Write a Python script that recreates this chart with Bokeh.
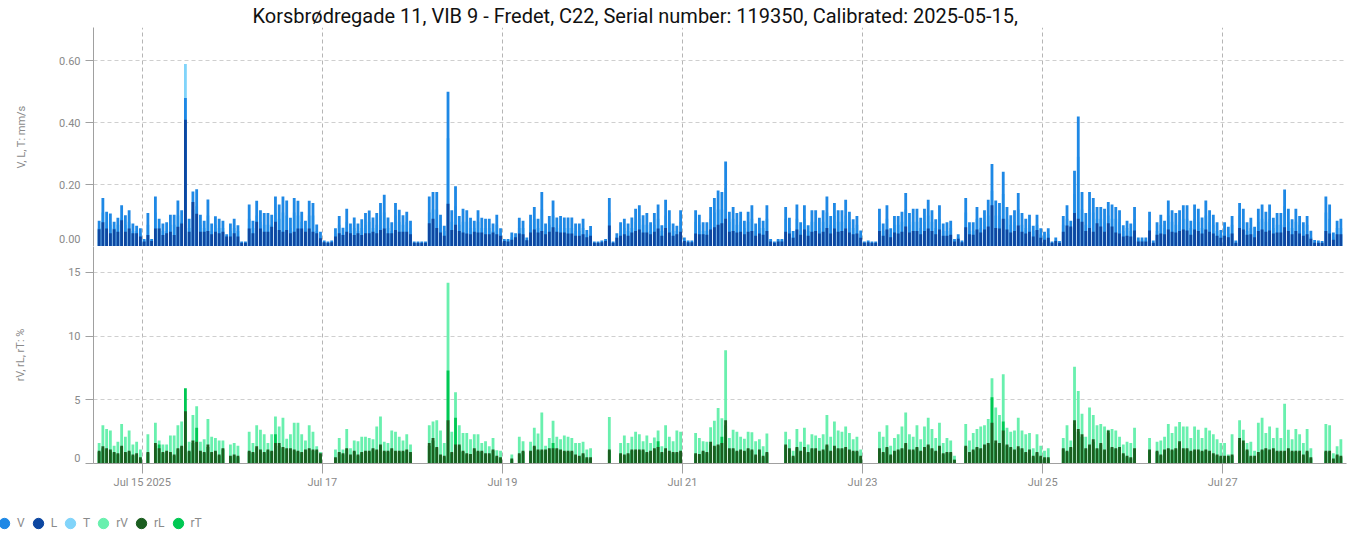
import pandas as pd
from bokeh.plotting import figure
from bokeh.models import (ColumnDataSource, Range1d, FixedTicker, NumeralTickFormatter,
                          Legend, LegendItem)
from bokeh.layouts import column, row
from bokeh.embed import file_html
from bokeh.resources import INLINE

TITLE = "Korsbrødregade 11, VIB 9 - Fredet, C22, Serial number: 119350, Calibrated: 2025-05-15,"
START = "2025-07-14 12:00"   # first hourly bar

V = [0.083, 0.157, 0.112, 0.107, 0.080, 0.093, 0.133, 0.101, 0.117, 0.074,
     0.067, 0.059, 0.024, 0.108, 0.024, 0.162, 0.090, 0.074, 0.078, 0.103,
     0.103, 0.149, 0.117, 0.480, 0.090, 0.178, 0.185, 0.103, 0.083, 0.152,
     0.074, 0.098, 0.090, 0.083, 0.040, 0.074, 0.090, 0.069, 0.016, 0.016,
     0.136, 0.083, 0.148, 0.117, 0.108, 0.108, 0.103, 0.162, 0.136, 0.162,
     0.149, 0.093, 0.157, 0.148, 0.112, 0.083, 0.148, 0.141, 0.071, 0.048,
     0.019, 0.016, 0.019, 0.059, 0.099, 0.061, 0.122, 0.074, 0.094, 0.074,
     0.088, 0.108, 0.116, 0.094, 0.108, 0.141, 0.167, 0.094, 0.078, 0.141,
     0.119, 0.101, 0.112, 0.083, 0.016, 0.016, 0.016, 0.016, 0.162, 0.176,
     0.176, 0.103, 0.067, 0.500, 0.117, 0.195, 0.099, 0.122, 0.117, 0.093,
     0.083, 0.117, 0.093, 0.090, 0.090, 0.074, 0.103, 0.059, 0.024, 0.024,
     0.045, 0.043, 0.093, 0.083, 0.029, 0.103, 0.128, 0.090, 0.176, 0.074,
     0.099, 0.149, 0.094, 0.099, 0.094, 0.094, 0.094, 0.074, 0.074, 0.090,
     0.053, 0.066, 0.016, 0.016, 0.019, 0.024, 0.157, 0.016, 0.043, 0.078,
     0.090, 0.074, 0.094, 0.122, 0.133, 0.101, 0.108, 0.078, 0.108, 0.136,
     0.069, 0.151, 0.117, 0.074, 0.067, 0.117, 0.029, 0.019, 0.019, 0.117,
     0.103, 0.078, 0.078, 0.128, 0.157, 0.181, 0.176, 0.275, 0.112, 0.128,
     0.108, 0.112, 0.083, 0.112, 0.133, 0.074, 0.093, 0.083, 0.133, 0.024,
     0.016, 0.024, 0.024, 0.128, 0.093, 0.050, 0.136, 0.078, 0.133, 0.069,
     0.117, 0.117, 0.093, 0.117, 0.162, 0.099, 0.141, 0.117, 0.117, 0.151,
     0.112, 0.088, 0.099, 0.052, 0.016, 0.019, 0.016, 0.016, 0.122, 0.074,
     0.133, 0.059, 0.099, 0.099, 0.112, 0.173, 0.108, 0.122, 0.122, 0.093,
     0.122, 0.151, 0.117, 0.088, 0.133, 0.074, 0.078, 0.083, 0.024, 0.040,
     0.019, 0.157, 0.078, 0.078, 0.128, 0.093, 0.117, 0.151, 0.267, 0.149,
     0.141, 0.242, 0.128, 0.101, 0.117, 0.173, 0.108, 0.090, 0.103, 0.067,
     0.103, 0.059, 0.048, 0.059, 0.016, 0.029, 0.018, 0.099, 0.133, 0.083,
     0.245, 0.420, 0.176, 0.108, 0.176, 0.157, 0.128, 0.128, 0.122, 0.144,
     0.136, 0.128, 0.117, 0.069, 0.083, 0.074, 0.128, 0.029, 0.029, 0.029,
     0.112, 0.019, 0.078, 0.103, 0.083, 0.149, 0.117, 0.108, 0.117, 0.133,
     0.133, 0.083, 0.136, 0.122, 0.094, 0.149, 0.117, 0.103, 0.078, 0.053,
     0.078, 0.064, 0.099, 0.019, 0.141, 0.122, 0.078, 0.093, 0.064, 0.122,
     0.136, 0.112, 0.136, 0.093, 0.108, 0.108, 0.184, 0.122, 0.088, 0.122,
     0.099, 0.078, 0.099, 0.051, 0.021, 0.019, 0.018, 0.162, 0.136, 0.045,
     0.083, 0.090]

L = [.056, .078, .058, .043, .056, .048, .085, .048, .058, .043,
     .043, .032, .016, .037, .018, .058, .058, .037, .043, .048,
     .037, .064, .074, .410, .048, .144, .106, .048, .048, .050,
     .040, .048, .043, .048, .032, .032, .043, .032, .012, .012,
     .058, .043, .080, .058, .048, .048, .064, .080, .053, .048,
     .053, .043, .048, .058, .058, .048, .058, .048, .043, .027,
     .014, .012, .014, .032, .043, .037, .048, .043, .037, .043,
     .037, .043, .043, .048, .043, .053, .058, .043, .043, .053,
     .048, .048, .048, .040, .012, .012, .012, .012, .075, .090,
     .060, .045, .035, .138, .053, .070, .050, .045, .042, .040,
     .048, .045, .045, .040, .040, .045, .040, .035, .018, .016,
     .022, .030, .042, .040, .020, .045, .055, .045, .050, .040,
     .048, .062, .048, .045, .045, .042, .042, .035, .035, .040,
     .030, .035, .012, .012, .014, .018, .068, .012, .028, .035,
     .040, .035, .045, .050, .055, .045, .045, .040, .048, .058,
     .035, .060, .045, .035, .040, .048, .018, .014, .014, .042,
     .040, .040, .038, .055, .062, .070, .075, .090, .048, .050,
     .045, .048, .040, .048, .050, .035, .042, .038, .050, .016,
     .012, .016, .016, .048, .042, .028, .055, .038, .055, .035,
     .048, .050, .042, .048, .060, .042, .058, .048, .050, .058,
     .045, .040, .042, .028, .012, .014, .012, .012, .050, .035,
     .055, .030, .045, .042, .048, .065, .045, .050, .050, .040,
     .050, .058, .050, .040, .055, .035, .035, .038, .016, .025,
     .014, .062, .040, .038, .055, .045, .055, .065, .133, .060,
     .058, .090, .055, .045, .050, .068, .048, .042, .048, .032,
     .053, .028, .022, .028, .012, .018, .012, .048, .068, .065,
     .108, .090, .080, .050, .060, .048, .075, .065, .048, .075,
     .065, .045, .042, .032, .035, .032, .052, .016, .016, .016,
     .052, .012, .038, .042, .040, .055, .048, .045, .050, .055,
     .052, .038, .055, .050, .042, .055, .048, .042, .035, .028,
     .035, .030, .042, .012, .060, .055, .038, .040, .030, .050,
     .055, .048, .052, .042, .045, .045, .062, .050, .040, .050,
     .042, .035, .040, .025, .012, .012, .012, .050, .042, .022,
     .040, .040]

T = [.06, .11, .08, .07, .06, .07, .09, .07, .08, .05,
     .05, .04, .02, .07, .02, .11, .06, .05, .05, .07,
     .07, .10, .08, .59, .06, .12, .13, .07, .06, .10,
     .05, .07, .06, .06, .03, .05, .06, .05, .01, .01,
     .09, .06, .10, .08, .07, .07, .07, .11, .09, .11,
     .10, .06, .11, .10, .08, .06, .10, .10, .05, .03,
     .01, .01, .01, .04, .07, .04, .08, .05, .06, .05,
     .06, .07, .08, .06, .07, .10, .11, .06, .05, .10,
     .08, .07, .08, .06, .01, .01, .01, .01, .11, .12,
     .12, .07, .05, .35, .08, .13, .07, .08, .08, .06,
     .06, .08, .06, .06, .06, .05, .07, .04, .02, .02,
     .03, .03, .06, .06, .02, .07, .09, .06, .12, .05,
     .07, .10, .06, .07, .06, .06, .06, .05, .05, .06,
     .04, .04, .01, .01, .01, .02, .11, .01, .03, .05,
     .06, .05, .06, .08, .09, .07, .07, .05, .07, .09,
     .05, .10, .08, .05, .05, .08, .02, .01, .01, .08,
     .07, .05, .05, .09, .11, .12, .12, .19, .08, .09,
     .07, .08, .06, .08, .09, .05, .06, .06, .09, .02,
     .01, .02, .02, .09, .06, .03, .09, .05, .09, .05,
     .08, .08, .06, .08, .11, .07, .10, .08, .08, .10,
     .08, .06, .07, .04, .01, .01, .01, .01, .08, .05,
     .09, .04, .07, .07, .08, .12, .07, .08, .08, .06,
     .08, .10, .08, .06, .09, .05, .05, .06, .02, .03,
     .01, .11, .05, .05, .09, .06, .08, .10, .18, .10,
     .10, .17, .09, .07, .08, .12, .07, .06, .07, .05,
     .07, .04, .03, .04, .01, .02, .01, .07, .09, .06,
     .17, .29, .12, .07, .12, .11, .09, .09, .08, .10,
     .09, .09, .08, .05, .06, .05, .09, .02, .02, .02,
     .08, .01, .05, .07, .06, .10, .08, .07, .08, .09,
     .09, .06, .09, .08, .06, .10, .08, .07, .05, .04,
     .05, .04, .07, .01, .10, .08, .05, .06, .04, .08,
     .09, .08, .09, .06, .07, .07, .13, .08, .06, .08,
     .07, .05, .07, .03, .01, .01, .01, .11, .09, .03,
     .06, .06]

rV = [1.6, 3.0, 2.7, 2.6, 1.4, 1.7, 3.1, 2.1, 2.6, 1.5,
      1.7, 1.1, 0, 2.3, 0, 3.2, 1.8, 1.5, 1.5, 2.2,
      2.2, 3.0, 3.3, 3.6, 1.7, 3.8, 4.5, 1.7, 1.9, 3.5,
      2.1, 2.0, 1.8, 1.8, 0, 1.5, 1.6, 1.4, 0, 0,
      2.5, 1.6, 3.0, 2.65, 2.3, 1.6, 2.3, 3.7, 2.9, 3.6,
      1.95, 2.3, 3.2, 3.2, 2.3, 1.8, 3.0, 2.5, 1.35, 0.9,
      0, 0, 0, 1.1, 2.0, 1.1, 2.7, 1.2, 1.8, 1.75,
      2.1, 2.1, 2.0, 1.9, 2.9, 3.7, 1.7, 1.6, 2.6, 2.5,
      2.1, 1.8, 2.3, 1.5, 0, 0, 0, 0, 3.0, 3.3,
      3.4, 2.6, 1.6, 14.2, 2.5, 5.6, 3.0, 2.4, 2.4, 1.9,
      2.3, 2.3, 1.6, 1.75, 1.35, 2.0, 1.05, 1.0, 0, 0,
      0.7, 0, 2.1, 1.75, 0, 1.7, 2.8, 2.35, 4.0, 1.4,
      2.0, 3.35, 2.1, 1.9, 2.2, 2.1, 2.0, 1.6, 1.6, 1.7,
      1.1, 1.2, 0, 0, 0, 0, 3.65, 0, 0, 1.6,
      2.2, 1.6, 2.1, 2.5, 2.3, 1.75, 2.2, 1.6, 2.05, 2.6,
      1.35, 3.0, 2.1, 1.75, 2.6, 2.5, 0, 0, 0, 2.4,
      2.0, 1.75, 1.7, 2.85, 3.35, 4.35, 3.55, 8.9, 2.0, 2.65,
      2.5, 2.1, 1.95, 2.5, 2.45, 1.75, 1.9, 1.35, 2.35, 0,
      0, 0, 0, 2.5, 1.9, 1.0, 2.7, 1.7, 2.8, 1.5,
      2.3, 2.2, 2.0, 2.3, 3.8, 2.1, 3.3, 2.6, 2.5, 2.9,
      2.4, 1.9, 2.1, 1.1, 0, 0, 0, 0, 2.5, 2.1,
      3.0, 1.4, 2.0, 2.3, 2.9, 4.0, 2.3, 2.1, 3.0, 1.9,
      2.9, 3.6, 2.7, 2.0, 3.2, 1.6, 2.0, 1.8, 0.6, 0,
      0, 3.1, 1.8, 2.4, 2.7, 2.9, 3.0, 3.5, 6.7, 4.4,
      3.8, 7.0, 2.8, 2.5, 2.6, 3.6, 2.6, 2.3, 2.4, 1.2,
      2.3, 1.4, 1.0, 1.2, 0, 0, 0, 2.0, 3.0, 1.8,
      7.6, 5.7, 3.9, 2.1, 4.4, 3.8, 3.0, 3.1, 2.9, 2.65,
      2.7, 2.6, 2.1, 1.5, 1.7, 1.6, 2.8, 0, 0, 0,
      2.0, 0, 1.7, 1.8, 2.1, 3.1, 2.4, 2.9, 3.25, 2.9,
      2.9, 2.0, 2.9, 2.65, 2.0, 2.8, 2.6, 2.3, 1.9, 1.6,
      1.6, 0.7, 2.3, 0, 3.4, 2.65, 1.6, 1.7, 1.0, 3.2,
      3.6, 2.4, 2.9, 2.0, 2.8, 2.0, 4.7, 2.65, 1.9, 2.7,
      2.3, 1.6, 2.7, 1.2, 0, 0, 0, 3.1, 3.0, 0.8,
      1.35, 1.9]

rL = [1.0, 1.35, 1.2, 1.1, 0.9, 0.8, 1.4, 0.9, 1.0, 0.7,
      0.8, 0.5, 0, 0.9, 0, 1.6, 1.2, 0.9, 1.0, 0.9,
      0.7, 1.2, 1.4, 4.1, 1.0, 1.8, 1.7, 1.0, 0.9, 1.5,
      0.9, 1.0, 0.7, 1.2, 0, 0.6, 0.7, 0.6, 0, 0,
      1.0, 0.9, 1.35, 1.1, 0.9, 1.1, 1.0, 1.6, 1.6, 1.3,
      1.2, 1.2, 1.1, 1.0, 0.9, 1.1, 1.2, 1.1, 1.1, 0.8,
      0, 0, 0, 0.5, 0.9, 0.8, 1.2, 0.7, 1.0, 0.7,
      0.9, 1.0, 1.0, 1.2, 1.1, 1.5, 1.0, 1.0, 1.2, 1.0,
      1.0, 1.0, 1.1, 0.9, 0, 0, 0, 0, 1.6, 2.0,
      1.3, 0.7, 0.6, 3.4, 0.9, 1.5, 1.5, 1.0, 0.8, 0.75,
      1.2, 1.0, 1.0, 0.8, 0.8, 1.1, 0.6, 0.5, 0, 0,
      0.4, 0, 0.8, 1.0, 0, 1.0, 1.4, 1.1, 1.1, 1.1,
      1.2, 1.2, 1.2, 1.1, 1.0, 1.0, 1.0, 0.7, 0.6, 0.8,
      0.5, 0.5, 0, 0, 0, 0, 1.1, 0, 0, 0.8,
      0.7, 0.8, 1.1, 1.1, 1.1, 1.1, 0.9, 1.0, 1.2, 1.3,
      0.9, 1.2, 1.0, 0.9, 0.9, 1.0, 0, 0, 0, 0.8,
      0.75, 1.0, 0.9, 1.7, 1.4, 1.5, 1.6, 3.4, 1.2, 1.2,
      1.0, 1.1, 1.0, 1.2, 1.1, 0.7, 1.1, 0.6, 0.9, 0,
      0, 0, 0, 1.5, 1.2, 0.6, 1.3, 1.0, 1.3, 0.9,
      1.2, 1.2, 1.0, 1.1, 1.5, 1.0, 1.4, 1.2, 1.2, 1.3,
      1.1, 1.0, 1.0, 0.6, 0, 0, 0, 0, 1.2, 0.9,
      1.3, 0.7, 1.0, 1.1, 1.2, 1.6, 1.1, 1.1, 1.3, 1.0,
      1.3, 1.5, 1.2, 1.0, 1.4, 0.8, 0.9, 0.9, 0.3, 0,
      0, 1.4, 0.9, 1.1, 1.3, 1.2, 1.5, 1.6, 3.2, 1.8,
      1.6, 2.6, 1.5, 1.3, 1.1, 1.35, 1.2, 0.9, 1.1, 0.6,
      0.9, 0.6, 0.5, 0.5, 0, 0, 0, 1.2, 1.0, 1.3,
      3.4, 2.7, 2.3, 1.2, 1.5, 1.9, 1.2, 1.6, 1.1, 2.6,
      1.3, 1.2, 1.3, 0.8, 0.6, 0.5, 1.2, 0, 0, 0,
      1.1, 0, 1.0, 0.7, 1.1, 1.2, 1.1, 1.2, 1.75, 1.2,
      1.2, 1.0, 1.1, 1.1, 1.0, 1.1, 1.0, 0.8, 0.7, 0.6,
      0.6, 0.6, 0.7, 0, 2.0, 1.8, 1.1, 0.6, 0.6, 0.9,
      1.1, 1.2, 1.1, 1.2, 1.0, 1.0, 1.0, 1.2, 1.0, 1.0,
      1.0, 0.7, 1.0, 0.5, 0, 0, 0, 1.0, 1.0, 0.4,
      0.7, 0.6]

rT = [0.9, 1.2, 1.1, 1.0, 0.8, 0.7, 1.3, 0.8, 0.9, 0.6,
      0.7, 0.4, 0, 0.8, 0, 1.4, 1.5, 0.8, 0.9, 0.8,
      0.6, 1.1, 1.3, 5.9, 0.9, 1.6, 2.8, 0.9, 0.8, 1.3,
      0.8, 0.9, 0.6, 1.1, 0, 0.5, 0.6, 0.5, 0, 0,
      0.9, 0.8, 1.2, 1.0, 0.8, 1.0, 0.9, 2.3, 1.4, 1.2,
      1.1, 1.1, 1.0, 0.9, 0.8, 1.0, 1.1, 1.0, 1.0, 0.7,
      0, 0, 0, 0.4, 0.8, 0.7, 1.1, 0.6, 0.9, 0.6,
      0.8, 0.9, 0.9, 1.1, 1.0, 1.4, 0.9, 0.9, 1.1, 0.9,
      0.9, 0.9, 1.0, 0.8, 0, 0, 0, 0, 1.4, 1.8,
      1.2, 0.6, 0.5, 7.3, 0.8, 3.6, 1.4, 0.9, 0.7, 0.7,
      1.1, 0.9, 0.9, 0.7, 0.7, 1.0, 0.5, 0.4, 0, 0,
      0.3, 0, 0.7, 0.9, 0, 0.9, 1.3, 1.0, 1.0, 1.0,
      1.1, 1.6, 1.1, 1.0, 0.9, 0.9, 0.9, 0.6, 0.5, 0.7,
      0.4, 0.4, 0, 0, 0, 0, 1.0, 0, 0, 0.7,
      0.6, 0.7, 1.0, 1.0, 1.0, 1.0, 0.8, 0.9, 1.1, 1.75,
      0.8, 1.1, 0.9, 0.8, 0.8, 0.9, 0, 0, 0, 0.7,
      0.7, 0.9, 0.8, 1.5, 1.3, 1.4, 2.1, 3.0, 1.1, 1.1,
      0.9, 1.0, 0.9, 1.1, 1.0, 0.6, 1.0, 0.5, 0.8, 0,
      0, 0, 0, 1.4, 1.1, 0.5, 1.2, 0.9, 1.2, 0.8,
      1.1, 1.1, 0.9, 1.0, 1.4, 0.9, 1.3, 1.1, 1.1, 1.2,
      1.0, 0.9, 0.9, 0.5, 0, 0, 0, 0, 1.1, 0.8,
      1.2, 0.6, 0.9, 1.0, 1.1, 1.5, 1.0, 1.0, 1.2, 0.9,
      1.2, 1.4, 1.1, 0.9, 1.3, 0.7, 0.8, 0.8, 0.3, 0,
      0, 1.3, 0.8, 1.0, 1.2, 1.1, 1.4, 1.5, 5.2, 1.6,
      1.5, 3.3, 1.4, 1.2, 1.0, 1.2, 1.1, 0.8, 1.0, 0.5,
      0.8, 0.5, 0.4, 0.4, 0, 0, 0, 1.1, 0.9, 1.2,
      3.1, 2.5, 2.1, 1.1, 1.4, 1.7, 1.1, 1.5, 1.0, 2.4,
      1.2, 1.1, 1.2, 0.7, 0.5, 0.4, 1.1, 0, 0, 0,
      1.0, 0, 0.9, 0.6, 1.0, 1.1, 1.0, 1.1, 1.6, 1.1,
      1.1, 0.9, 1.0, 1.0, 0.9, 1.0, 0.9, 0.7, 0.6, 0.5,
      0.5, 0.5, 0.6, 0, 1.8, 1.6, 1.0, 0.5, 0.5, 0.8,
      1.0, 1.1, 1.0, 1.1, 0.9, 0.9, 0.9, 1.1, 0.9, 0.9,
      0.9, 0.6, 0.9, 0.4, 0, 0, 0, 0.9, 0.9, 0.3,
      0.6, 0.5]

TICK_DATES = ["2025-07-15", "2025-07-17", "2025-07-19", "2025-07-21",
              "2025-07-23", "2025-07-25", "2025-07-27"]
TICK_LABELS = ["Jul 15 2025", "Jul 17", "Jul 19", "Jul 21", "Jul 23", "Jul 25", "Jul 27"]
TOP_TICKS = [0.2, 0.4, 0.6]
TOP_ZERO = "0.00"
BOT_TICKS = [5, 10, 15]
BOT_ZERO = "0"

C = {"V": "#1E88E5", "L": "#0D47A1", "T": "#81D4FA",
     "rV": "#69F0AE", "rL": "#1B5E20", "rT": "#00C853"}
LBL = "#8a8a8a"
AXIS = "#a0a0a0"
GRID = "#cfcfcf"
FONT = "Roboto"

n = len(V)
hours = pd.date_range(START, periods=n, freq="h")
src = ColumnDataSource(dict(x=hours + pd.Timedelta(minutes=30),
                            V=V, L=L, T=T, rV=rV, rL=rL, rT=rT))
HOUR_MS = 3600 * 1000
x_start = hours[0] - pd.Timedelta(hours=1)
x_end = hours[-1] + pd.Timedelta(hours=2)
x_range = Range1d(x_start.to_pydatetime(), x_end.to_pydatetime())
tick_ms = [pd.Timestamp(d).value // 10**6 for d in TICK_DATES]

W = 1356
ML, MR = 93, 10
FRAME_W = W - ML - MR
# the zero baseline of each panel runs on to the left, past the y axis (to x = 10 px)
start_ms = x_start.value // 10**6
end_ms = x_end.value // 10**6
ms_per_px = (end_ms - start_ms) / FRAME_W
BASELINE_BOUNDS = (start_ms - (ML - 10) * ms_per_px, end_ms)


def style(p, ymax, frame_h, lift_px, yticks, zero_text, ylabel, standoff):
    z = lift_px * ymax / frame_h      # the reference lifts its "0" label above the baseline
    p.outline_line_color = None
    p.background_fill_color = "white"
    p.yaxis.ticker = FixedTicker(ticks=[z] + yticks, minor_ticks=[0] + yticks)
    p.yaxis.major_label_overrides = {z: zero_text}
    p.yaxis.axis_label = ylabel
    p.yaxis.axis_label_text_font = FONT
    p.yaxis.axis_label_text_font_size = "11px"
    p.yaxis.axis_label_text_font_style = "normal"
    p.yaxis.axis_label_text_color = LBL
    p.yaxis.axis_label_standoff = standoff
    p.yaxis.major_label_text_font = FONT
    p.yaxis.major_label_text_font_size = "11px"
    p.yaxis.major_label_text_color = LBL
    p.yaxis.major_label_standoff = 5
    p.yaxis.major_tick_out = 8
    p.yaxis.major_tick_in = 0
    p.yaxis.major_tick_line_color = None
    p.yaxis.minor_tick_out = 8
    p.yaxis.minor_tick_in = 0
    p.yaxis.minor_tick_line_color = AXIS
    p.yaxis.axis_line_color = AXIS
    p.ygrid.ticker = FixedTicker(ticks=yticks)
    p.xgrid.ticker = FixedTicker(ticks=tick_ms)
    for g in (p.xgrid, p.ygrid):
        g.grid_line_dash = "4 3"
    p.ygrid.grid_line_color = GRID
    p.xgrid.grid_line_color = "#b5b5b5"
    p.xaxis.axis_line_color = AXIS
    p.xaxis.major_tick_line_color = AXIS
    p.xaxis.major_tick_in = 0
    p.xaxis.minor_tick_out = 0
    p.xaxis.minor_tick_in = 0
    p.xaxis.bounds = BASELINE_BOUNDS


# ---------- top panel: V, L, T ----------
TOP_MAX = 1.2 * max(max(V), max(L), max(T))
p1 = figure(width=W, height=246, x_range=x_range, y_range=Range1d(0, TOP_MAX),
            x_axis_type="datetime", output_backend="svg", toolbar_location=None,
            min_border_left=ML, min_border_right=MR, min_border_top=27, min_border_bottom=0)
style(p1, TOP_MAX, 218, 7, TOP_TICKS, TOP_ZERO, "V, L, T: mm/s", 28)
p1.yaxis.formatter = NumeralTickFormatter(format="0.00")
p1.xaxis.ticker = FixedTicker(ticks=[])     # baseline only
p1.xaxis.major_tick_out = 0
for key in ("T", "V", "L"):
    p1.vbar(x="x", top=key, width=0.75 * HOUR_MS, source=src,
            fill_color=C[key], line_color=None)
p1.title.text = TITLE
p1.title.align = "left"
p1.title.offset = 159
p1.title.standoff = 0
p1.title.text_font = FONT
p1.title.text_font_size = "20px"
p1.title.text_font_style = "normal"
p1.title.text_color = "#111111"

# ---------- bottom panel: rV, rL, rT ----------
BOT_MAX = 1.2 * max(max(rV), max(rL), max(rT))
p2 = figure(width=W, height=247, x_range=x_range, y_range=Range1d(0, BOT_MAX),
            x_axis_type="datetime", output_backend="svg", toolbar_location=None,
            min_border_left=ML, min_border_right=MR, min_border_top=0, min_border_bottom=30)
style(p2, BOT_MAX, 217, 5.5, BOT_TICKS, BOT_ZERO, "rV, rL, rT: %", 38)
p2.xaxis.ticker = FixedTicker(ticks=tick_ms)
p2.xaxis.major_label_overrides = {t: s for t, s in zip(tick_ms, TICK_LABELS)}
p2.xaxis.major_tick_out = 10
p2.xaxis.major_label_standoff = 2
p2.xaxis.major_label_text_font = FONT
p2.xaxis.major_label_text_font_size = "11px"
p2.xaxis.major_label_text_color = LBL
for key in ("rV", "rT", "rL"):
    p2.vbar(x="x", top=key, width=0.75 * HOUR_MS, source=src,
            fill_color=C[key], line_color=None)

# ---------- legend strip (kept out of the panels' frame alignment) ----------
p3 = figure(width=W, height=42, x_range=Range1d(0, 1), y_range=Range1d(0, 1),
            output_backend="svg", toolbar_location=None,
            x_axis_location=None, y_axis_location=None,
            min_border_left=0, min_border_right=0, min_border_top=0, min_border_bottom=0)
p3.outline_line_color = None
p3.xgrid.visible = False
p3.ygrid.visible = False
items = []
for key in ("V", "L", "T", "rV", "rL", "rT"):
    r = p3.scatter(x=[float("nan")], y=[float("nan")], marker="circle", size=10,
                   fill_color=C[key], line_color=C[key])
    items.append(LegendItem(label=key, renderers=[r]))
leg = Legend(items=items, orientation="horizontal", location=(-9, -3),
             glyph_width=26, glyph_height=30, label_standoff=0, spacing=0,
             label_width=0, padding=0, margin=0, border_line_color=None,
             background_fill_alpha=0, label_text_font=FONT, label_text_font_size="12px",
             label_text_color=LBL)
p3.add_layout(leg)

layout = column(p1, p2, row(p3, spacing=0), spacing=0)
open("out.html", "w").write(file_html(layout, INLINE))
